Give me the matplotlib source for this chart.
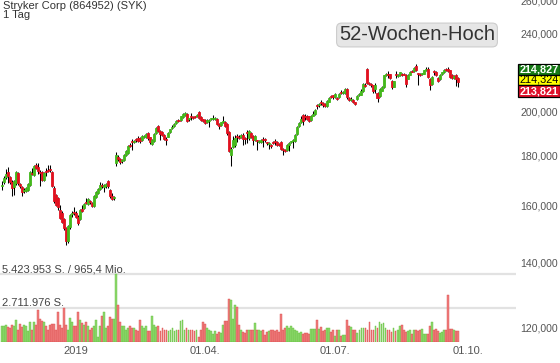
import matplotlib
matplotlib.use("Agg")
import matplotlib.pyplot as plt
from matplotlib.patches import Rectangle
from matplotlib.ticker import NullLocator
import numpy as np
import pandas as pd

plt.rcParams["font.family"] = ["Liberation Sans", "DejaVu Sans"]

# ---- data (daily candles, Nov 2018 - Sep 2019) ----
title = "Stryker Corp (864952) (SYK)"
period = "1 Tag"
badge = "52-Wochen-Hoch"
start_date = "2018-11-09"

opens = [
    167.5, 169.3, 171.2, 173.2, 171.3, 169.3, 167.2, 169.0, 173.0, 168.3,
    167.2, 165.8, 165.9, 166.2, 168.0, 173.0, 172.2, 176.2, 175.2, 173.5,
    173.2, 170.2, 173.6, 174.0, 174.3, 173.2, 166.8, 164.0, 163.0, 158.5,
    157.5, 155.0, 151.8, 147.3, 152.2, 156.8, 157.8, 157.5, 156.0, 155.3,
    158.5, 159.3, 161.5, 160.8, 161.8, 161.0, 160.0, 163.4, 165.0, 166.5,
    168.2, 167.4, 167.6, 169.5, 166.2, 163.8, 163.0, 177.0, 179.6, 178.6,
    177.8, 178.4, 180.4, 181.2, 184.8, 186.2, 186.0, 187.2, 187.8, 187.6,
    187.0, 188.4, 188.0, 190.0, 188.0, 185.0, 186.6, 190.0, 193.2, 191.0,
    190.4, 189.0, 187.4, 188.4, 190.4, 192.2, 193.0, 194.4, 195.8, 196.0,
    197.4, 198.2, 198.8, 196.2, 197.8, 197.4, 197.6, 197.6, 199.6, 197.2,
    196.2, 196.0, 195.0, 195.4, 196.2, 196.4, 196.6, 196.6, 194.2, 193.6,
    195.0, 195.2, 194.0, 190.4, 180.2, 184.0, 184.6, 188.6, 188.4, 188.0,
    189.2, 187.8, 190.6, 187.6, 190.2, 188.6, 187.0, 186.6, 186.0, 186.0,
    187.4, 187.2, 185.8, 185.0, 184.8, 186.2, 186.2, 186.0, 185.2, 186.0,
    182.8, 182.4, 182.6, 184.6, 185.8, 186.4, 186.6, 189.4, 193.0, 195.0,
    198.2, 197.6, 198.0, 197.6, 196.0, 198.0, 198.6, 202.6, 203.0, 204.2,
    203.8, 203.6, 202.6, 204.6, 207.2, 207.6, 206.6, 206.4, 206.6, 209.4,
    208.8, 208.6, 211.0, 206.2, 205.6, 205.4, 204.2, 206.0, 207.6, 208.0,
    209.6, 213.0, 220.8, 214.0, 213.4, 212.6, 211.0, 208.8, 207.2, 210.0,
    211.8, 217.8, 218.2, 218.2, 215.0, 212.0, 218.4, 217.4, 217.8, 218.6,
    218.6, 218.0, 216.0, 218.0, 219.8, 219.8, 222.4, 218.6, 218.6, 218.2,
    218.6, 220.2, 221.2, 215.8, 213.2, 219.6, 219.6, 216.4, 215.6, 218.4,
    219.4, 221.0, 220.8, 220.2, 218.0, 216.4, 217.8, 216.2,
]
highs = [
    169.5, 171.5, 174.5, 175.2, 171.8, 170.0, 170.0, 173.8, 173.5, 168.8,
    167.6, 167.0, 167.3, 168.8, 173.8, 175.0, 176.0, 177.0, 177.0, 174.2,
    173.8, 173.2, 175.0, 176.0, 176.0, 173.6, 167.5, 164.5, 163.5, 160.5,
    158.2, 155.5, 152.2, 153.0, 157.0, 158.0, 159.5, 158.0, 156.5, 159.0,
    160.5, 161.0, 163.0, 163.0, 162.2, 161.3, 164.0, 165.8, 167.0, 169.2,
    168.8, 168.6, 168.8, 170.2, 166.5, 164.8, 163.8, 181.5, 180.2, 179.0,
    178.8, 180.8, 182.4, 184.6, 185.6, 187.4, 187.0, 187.8, 188.6, 188.0,
    189.0, 189.2, 190.2, 190.4, 188.4, 187.4, 190.0, 192.6, 193.6, 191.4,
    190.8, 189.4, 188.0, 190.4, 192.0, 193.6, 194.6, 196.0, 196.4, 198.0,
    199.0, 199.6, 199.2, 197.0, 199.0, 197.8, 198.0, 198.8, 200.0, 197.6,
    196.6, 196.4, 196.4, 196.6, 197.0, 198.4, 197.4, 197.0, 194.6, 195.2,
    197.6, 195.6, 194.4, 190.8, 184.0, 188.6, 189.0, 189.4, 189.0, 189.6,
    190.0, 188.4, 191.2, 191.4, 190.6, 189.0, 189.0, 187.0, 186.8, 187.4,
    188.2, 187.8, 186.2, 185.8, 185.2, 186.6, 187.4, 186.4, 185.6, 186.4,
    183.4, 182.8, 185.0, 186.0, 186.6, 187.4, 189.6, 193.0, 195.0, 197.6,
    198.6, 198.8, 198.4, 198.0, 198.4, 200.2, 201.0, 203.6, 203.8, 205.2,
    204.4, 204.0, 205.4, 206.6, 207.8, 208.0, 208.6, 206.8, 208.8, 210.4,
    209.8, 211.4, 211.4, 206.6, 206.6, 205.8, 204.6, 207.8, 208.6, 210.6,
    213.8, 214.0, 221.4, 214.4, 214.0, 213.0, 214.0, 209.2, 211.4, 212.4,
    218.0, 219.0, 219.8, 218.6, 215.4, 215.0, 220.0, 218.2, 219.6, 219.0,
    219.0, 218.4, 218.4, 219.8, 220.2, 222.0, 223.4, 219.0, 219.0, 218.8,
    220.6, 222.2, 221.8, 216.2, 217.4, 220.2, 220.0, 216.8, 218.2, 219.6,
    220.8, 221.6, 222.0, 220.6, 218.4, 217.8, 218.4, 216.6,
]
lows = [
    166.3, 168.5, 170.5, 169.0, 168.5, 163.8, 164.0, 168.2, 168.0, 166.8,
    163.8, 165.0, 165.2, 165.8, 167.5, 172.0, 171.8, 174.5, 172.5, 167.5,
    169.5, 169.8, 171.5, 173.2, 173.5, 167.3, 161.0, 159.8, 158.5, 155.0,
    153.8, 151.2, 145.8, 146.5, 151.5, 155.8, 156.5, 155.5, 152.8, 154.8,
    157.8, 158.8, 160.7, 160.3, 160.8, 159.5, 159.5, 163.0, 164.6, 166.2,
    167.0, 165.5, 167.0, 167.0, 163.0, 162.2, 162.3, 175.8, 178.0, 176.5,
    177.2, 178.0, 180.0, 180.8, 183.8, 182.5, 185.6, 186.2, 185.8, 185.5,
    186.6, 187.8, 187.6, 187.0, 185.2, 184.6, 186.2, 189.6, 190.4, 186.8,
    188.5, 186.8, 184.8, 188.0, 190.0, 191.6, 192.6, 194.0, 195.0, 195.6,
    197.0, 197.8, 195.0, 195.6, 195.8, 196.2, 196.8, 197.2, 196.6, 195.4,
    195.0, 194.0, 194.6, 192.6, 195.8, 196.0, 196.0, 193.4, 192.0, 193.0,
    194.6, 192.8, 189.2, 181.5, 175.8, 183.6, 184.0, 186.0, 187.2, 187.6,
    184.8, 185.0, 185.6, 187.0, 187.6, 184.8, 186.6, 182.5, 185.4, 185.6,
    184.0, 186.2, 184.8, 182.8, 183.4, 185.0, 184.6, 184.2, 184.2, 182.6,
    180.4, 181.8, 182.2, 182.0, 185.4, 183.6, 186.2, 189.0, 192.6, 194.6,
    193.6, 196.0, 196.0, 195.0, 195.6, 197.6, 198.2, 201.2, 202.0, 203.0,
    201.8, 202.2, 202.2, 204.2, 206.2, 206.0, 206.2, 205.2, 206.2, 208.2,
    208.4, 208.2, 206.0, 204.8, 205.0, 203.8, 203.0, 205.6, 207.2, 207.6,
    209.2, 211.8, 213.4, 212.6, 212.0, 209.0, 208.6, 204.2, 206.6, 209.6,
    211.4, 217.4, 216.2, 216.0, 211.0, 211.6, 216.4, 217.0, 217.4, 217.2,
    217.6, 212.0, 215.6, 217.6, 219.2, 219.4, 219.8, 213.0, 217.2, 217.8,
    218.2, 219.8, 216.4, 210.4, 212.8, 218.0, 217.4, 214.2, 215.2, 218.0,
    219.0, 220.0, 219.2, 216.2, 216.0, 216.0, 212.4, 212.0,
]
closes = [
    168.2, 171.0, 172.3, 171.6, 169.2, 167.0, 169.5, 173.2, 169.0, 167.8,
    165.3, 166.3, 166.8, 168.3, 173.4, 172.5, 175.6, 175.0, 173.6, 173.0,
    170.0, 172.8, 173.4, 173.8, 174.0, 167.8, 162.0, 160.3, 159.5, 155.6,
    154.2, 152.0, 147.2, 152.6, 156.6, 157.4, 157.2, 156.0, 153.6, 158.6,
    158.2, 160.6, 161.2, 162.6, 161.4, 160.0, 163.6, 165.4, 166.6, 168.0,
    167.8, 167.9, 168.3, 167.5, 163.6, 162.8, 163.2, 180.6, 178.6, 177.6,
    178.2, 180.4, 182.0, 184.2, 184.3, 185.8, 186.6, 186.8, 186.5, 186.6,
    188.6, 188.7, 189.6, 187.6, 186.0, 187.0, 189.6, 192.2, 191.0, 189.6,
    189.0, 187.4, 186.8, 190.0, 191.6, 192.6, 194.2, 195.6, 195.4, 197.6,
    198.6, 199.2, 195.6, 196.6, 197.4, 196.8, 197.4, 198.2, 197.0, 196.0,
    195.6, 194.6, 196.0, 195.6, 196.6, 196.8, 196.8, 194.0, 193.0, 194.8,
    195.6, 193.2, 189.8, 182.0, 183.0, 187.0, 187.6, 188.4, 187.8, 189.2,
    187.2, 187.4, 190.2, 191.0, 188.2, 187.0, 188.6, 186.4, 186.2, 187.0,
    186.8, 186.8, 185.4, 185.2, 184.4, 185.6, 185.8, 184.6, 184.8, 183.0,
    182.4, 182.2, 184.6, 185.6, 186.2, 186.8, 189.2, 192.6, 194.6, 196.6,
    195.6, 197.2, 196.6, 195.6, 198.0, 198.6, 200.6, 202.4, 203.2, 203.8,
    203.0, 202.6, 205.0, 206.2, 206.8, 206.6, 208.2, 206.0, 208.4, 208.8,
    209.4, 211.0, 206.6, 205.2, 206.0, 204.2, 203.4, 207.4, 208.2, 209.6,
    213.4, 212.4, 214.0, 213.2, 212.8, 209.6, 212.8, 206.2, 211.0, 212.0,
    217.6, 218.6, 217.8, 216.4, 211.6, 214.6, 217.6, 217.8, 219.2, 217.6,
    218.0, 213.4, 218.0, 219.4, 219.6, 221.6, 220.2, 218.2, 217.8, 218.4,
    220.2, 221.0, 216.8, 213.0, 217.0, 219.4, 217.8, 214.6, 217.8, 219.2,
    220.4, 220.6, 219.8, 216.6, 216.4, 217.2, 215.6, 214.3,
]
# volume in million shares
volumes = [
    1.24, 1.24, 1.38, 1.16, 1.11, 1.38, 1.24, 1.73, 0.97, 1.46,
    1.20, 1.35, 1.30, 0.84, 1.62, 0.97, 1.57, 1.35, 2.59, 1.84,
    1.65, 1.57, 1.24, 0.97, 1.38, 1.46, 1.46, 0.92, 2.38, 1.38,
    1.11, 2.73, 1.38, 0.97, 1.92, 1.57, 1.24, 1.24, 2.38, 1.73,
    1.51, 1.38, 1.57, 1.24, 0.97, 1.11, 1.30, 1.73, 0.38, 1.30,
    2.05, 2.38, 1.11, 1.24, 2.00, 1.84, 1.84, 5.423953, 2.92, 1.62,
    1.30, 1.24, 0.97, 1.11, 1.30, 1.11, 1.11, 0.97, 0.89, 1.78,
    1.30, 1.11, 1.24, 0.84, 0.84, 2.11, 1.35, 1.16, 1.30, 0.84,
    1.11, 0.92, 0.92, 0.84, 0.97, 1.11, 0.84, 0.92, 0.97, 1.65,
    1.73, 0.97, 1.11, 0.92, 0.92, 0.92, 0.84, 0.92, 0.38, 0.97,
    1.62, 1.46, 1.11, 0.92, 0.84, 0.65, 0.84, 0.65, 0.76, 0.70,
    1.38, 1.65, 1.65, 3.40, 3.35, 1.84, 2.92, 2.78, 1.35, 0.92,
    0.76, 0.70, 0.97, 0.97, 0.92, 0.97, 1.51, 0.92, 0.92, 0.84,
    0.92, 0.57, 0.76, 0.84, 0.97, 0.92, 0.84, 0.97, 0.76, 2.27,
    0.97, 1.11, 1.30, 1.11, 1.30, 1.11, 0.97, 0.84, 0.70, 0.76,
    0.65, 0.70, 0.70, 0.65, 1.03, 1.03, 1.03, 1.78, 1.03, 1.19,
    0.84, 0.97, 1.11, 1.11, 0.76, 0.97, 0.49, 0.92, 0.92, 0.49,
    0.59, 0.59, 1.73, 1.30, 1.19, 0.97, 0.92, 0.70, 0.97, 1.11,
    1.11, 1.11, 0.97, 1.57, 0.97, 0.92, 1.24, 1.11, 1.57, 1.46,
    1.51, 1.11, 0.97, 0.97, 0.76, 1.11, 0.84, 0.92, 1.30, 1.38,
    0.92, 0.76, 0.84, 0.97, 0.65, 0.97, 0.92, 0.84, 0.97, 1.03,
    0.65, 0.65, 0.65, 1.24, 1.57, 0.97, 1.03, 0.84, 0.70, 0.76,
    0.92, 0.92, 3.73, 1.03, 1.03, 0.92, 0.84, 0.84,
]
volume_labels = ["5.423.953 S. / 965,4 Mio.", "2.711.976 S."]

price_ticks = [120, 140, 160, 180, 200, 240, 260]
date_ticks = ["2019-01-01", "2019-04-01", "2019-07-01", "2019-10-01"]
date_tick_labels = ["2019", "01.04.", "01.07.", "01.10."]
quote_labels = ["214,827", "214,324", "213,821"]

# ---- layout in pixels of the 560x363 output ----
W, H = 560, 363
PLOT_R = 516
PLOT_B = 342


def fx(px):
    return px / W


def fy(py):
    return 1 - py / H


o = np.array(opens)
h = np.array(highs)
l = np.array(lows)
c = np.array(closes)
v = np.array(volumes)
idx = np.arange(len(c))
up = c >= o

calendar = pd.bdate_range(start_date, "2019-10-31")
tick_pos = [calendar.searchsorted(pd.Timestamp(d)) for d in date_ticks]

fig = plt.figure(figsize=(W / 100, H / 100), dpi=100)
rect = [0, fy(PLOT_B), fx(PLOT_R), 1 - fy(PLOT_B)]

# volume panel (behind)
ax_v = fig.add_axes(rect)
vol_colors = np.where(up, "#8fd96e", "#ef7e7e")
vol_edges = np.where(up, "#62bd3c", "#dc4a4a")
ax_v.bar(idx, v, width=0.9, color=vol_colors, edgecolor=vol_edges, linewidth=0.3)
vmax = v.max()
ax_v.set_ylim(0, vmax * PLOT_B / 68)
for level, text in zip([vmax, vmax / 2], volume_labels):
    ax_v.axhline(level, color="#e2e2e2", lw=1.6, zorder=0)
    ax_v.text(0.004, level, text, transform=ax_v.get_yaxis_transform(),
              va="bottom", ha="left", fontsize=8, color="#444444")
ax_v.axis("off")

# price panel
ax = fig.add_axes(rect, sharex=ax_v)
ax.patch.set_alpha(0)
ax.set_yscale("log")
ax.vlines(idx, l, h, color="black", lw=0.75, zorder=2)
body_lo = np.minimum(o, c)
body_h = np.maximum(np.abs(c - o), 0.45)
body_col = np.where(up, "#44b81c", "#e1111f")
ax.bar(idx, body_h, bottom=body_lo, width=1.0, color=body_col,
       edgecolor=body_col, linewidth=0.6, zorder=3)

ax.set_ylim(116.07, 260.0)
ax.set_xlim(-0.8, 255.9)

ax.yaxis.tick_right()
ax.set_yticks(price_ticks)
ax.set_yticklabels([f"{t:.3f}".replace(".", ",") for t in price_ticks])
ax.yaxis.set_minor_locator(NullLocator())
ax.tick_params(axis="y", length=0, pad=3, labelsize=7.6, labelcolor="#555555")

ax.set_xticks(tick_pos)
ax.set_xticklabels(date_tick_labels)
ax.tick_params(axis="x", length=0, pad=3, labelsize=8, labelcolor="#555555")

for s in ax.spines.values():
    s.set_visible(False)

# header
fig.text(fx(3), fy(1), title, ha="left", va="top", fontsize=8, color="#333333")
fig.text(fx(3), fy(10), period, ha="left", va="top", fontsize=8, color="#333333")

fig.text(fx(417), fy(35), badge, ha="center", va="center", fontsize=14.5,
         color="#333333",
         bbox=dict(boxstyle="round,pad=0.12,rounding_size=0.25",
                   fc="#e6e6e6", ec="#cccccc", lw=0.8))

# last quote boxes
boxes = [
    (64, 74.5, "#167a16", "white", "bold"),
    (74.5, 85, "#ffff00", "black", "normal"),
    (85, 97, "#e0102a", "white", "bold"),
]
for (top, bot, face, tcol, weight), label in zip(boxes, quote_labels):
    fig.patches.append(Rectangle((fx(517.5), fy(bot)), fx(560) - fx(517.5),
                                 fy(top) - fy(bot), transform=fig.transFigure,
                                 facecolor=face, edgecolor="black", lw=0.9,
                                 zorder=5))
    fig.text(fx(539.5), fy((top + bot) / 2), label, ha="center", va="center",
             fontsize=7.8, color=tcol, weight=weight, zorder=6)

fig.savefig("out.png", dpi=100)
